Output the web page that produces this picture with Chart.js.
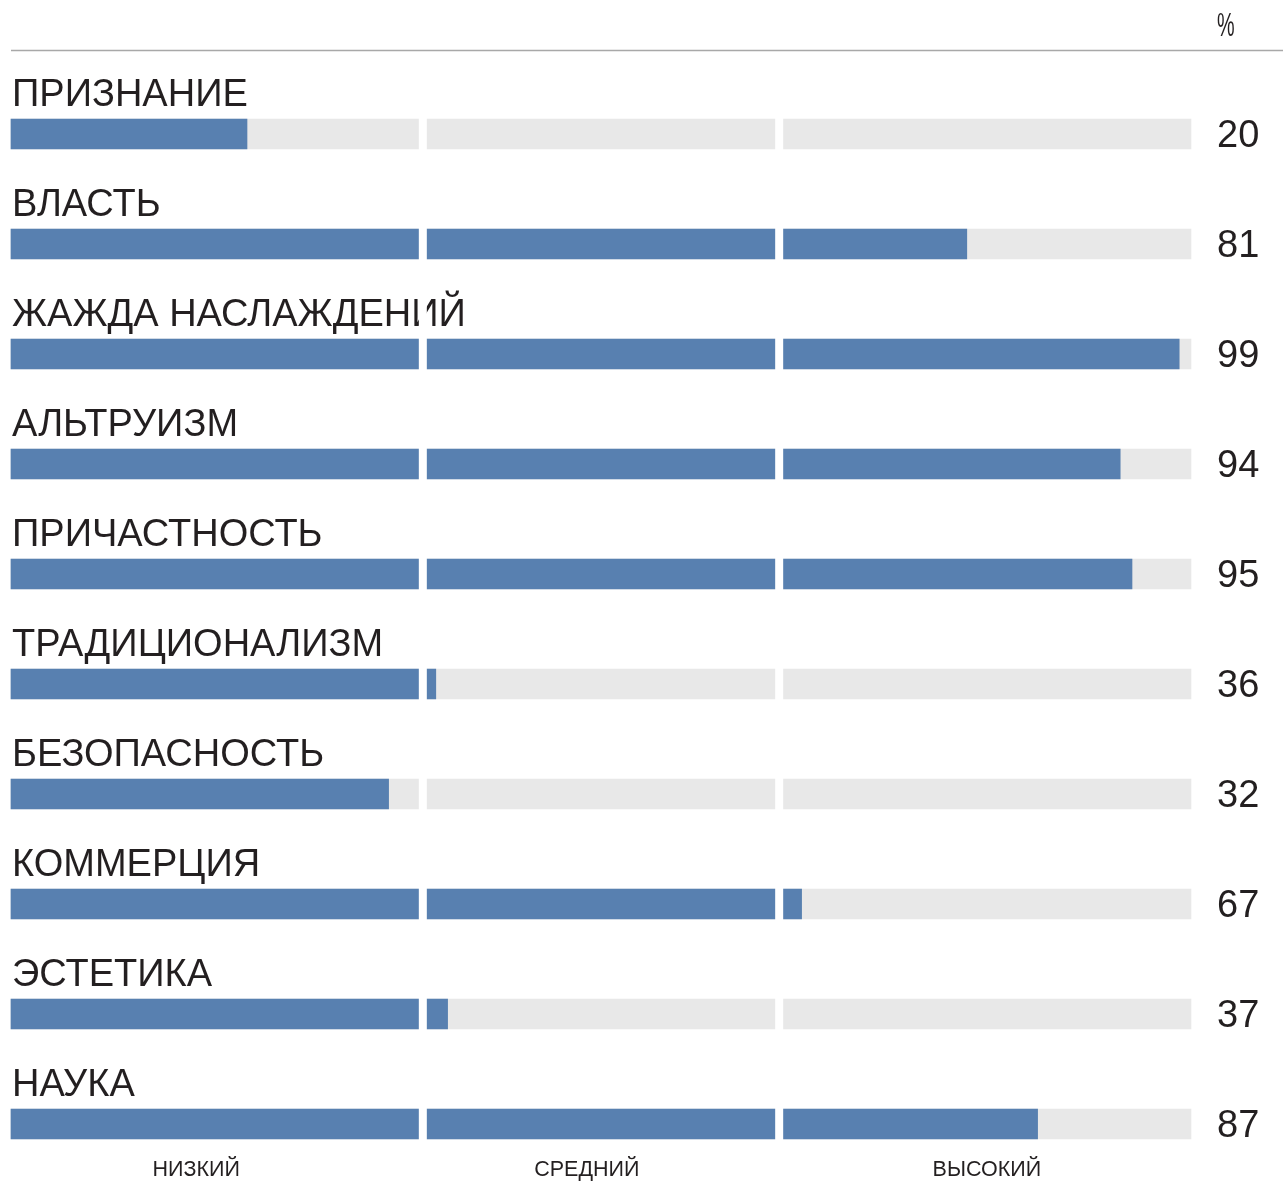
<!DOCTYPE html>
<html>
<head>
<meta charset="utf-8">
<script src="https://cdn.jsdelivr.net/npm/chart.js@4/dist/chart.umd.min.js"></script>
<style>
  html, body { margin: 0; padding: 0; background: #ffffff; }
  #wrap { width: 1283px; height: 1181px; position: relative; }
</style>
</head>
<body>
<div id="wrap"><canvas id="c" width="1283" height="1181"></canvas></div>
<script>
// ---- data ----
const categories = ['ПРИЗНАНИЕ', 'ВЛАСТЬ', 'ЖАЖДА НАСЛАЖДЕНИЙ', 'АЛЬТРУИЗМ', 'ПРИЧАСТНОСТЬ',
                    'ТРАДИЦИОНАЛИЗМ', 'БЕЗОПАСНОСТЬ', 'КОММЕРЦИЯ', 'ЭСТЕТИКА', 'НАУКА'];
const values = [20, 81, 99, 94, 95, 36, 32, 67, 37, 87];
const scaleMax = 100;
const levelBoundaries = [34.9, 65.1];
const levelLabels = ['НИЗКИЙ', 'СРЕДНИЙ', 'ВЫСОКИЙ'];
const levelLabelPositions = [15.7, 48.8, 82.7];
const unitLabel = '%';

// ---- styles ----
const BLUE = '#5880b0';
const GRAY = '#e8e8e8';
const TEXT = '#231f20';
const FONT = "'Liberation Sans', Arial, Helvetica, sans-serif";

const decorPlugin = {
  id: 'decor',
  afterDatasetsDraw(chart) {
    const ctx = chart.ctx;
    const x = chart.scales.x, y = chart.scales.y;
    ctx.save();
    // category names above each bar
    ctx.fillStyle = TEXT;
    ctx.font = '38px ' + FONT;
    ctx.textAlign = 'left';
    ctx.textBaseline = 'alphabetic';
    categories.forEach((c, i) => {
      ctx.fillText(c, x.getPixelForValue(0) + 1, y.getPixelForValue(i) - 28);
    });
    // white separators between levels
    ctx.fillStyle = '#ffffff';
    const top = y.getPixelForValue(0) - 75;
    const bottom = y.getPixelForValue(categories.length - 1) + 17;
    levelBoundaries.forEach(b => {
      const px = x.getPixelForValue(b);
      ctx.fillRect(px - 4, top, 8, bottom - top);
    });
    // values on the right
    ctx.fillStyle = TEXT;
    ctx.font = '38px ' + FONT;
    ctx.textAlign = 'left';
    values.forEach((v, i) => {
      ctx.fillText(String(v), x.right + 26, y.getPixelForValue(i) + 13);
    });
    // level labels at bottom
    ctx.font = '21.5px ' + FONT;
    ctx.textAlign = 'center';
    levelLabels.forEach((l, i) => {
      ctx.fillText(l, x.getPixelForValue(levelLabelPositions[i]), 1176);
    });
    // unit label (condensed) and top rule
    ctx.save();
    ctx.translate(x.right + 26, 36);
    ctx.scale(0.6, 1);
    ctx.font = '33px ' + FONT;
    ctx.textAlign = 'left';
    ctx.fillText(unitLabel, 0, 0);
    ctx.restore();
    ctx.strokeStyle = '#a8a8a8';
    ctx.lineWidth = 1.5;
    ctx.beginPath();
    ctx.moveTo(x.left, 50.5);
    ctx.lineTo(chart.width, 50.5);
    ctx.stroke();
    ctx.restore();
  }
};

new Chart(document.getElementById('c'), {
  type: 'bar',
  data: {
    labels: categories,
    datasets: [
      {
        label: 'value',
        data: values,
        backgroundColor: BLUE,
        order: 1
      },
      {
        label: 'scale',
        data: categories.map(() => scaleMax),
        backgroundColor: GRAY,
        order: 2
      }
    ]
  },
  options: {
    responsive: false,
    animation: false,
    indexAxis: 'y',
    layout: { padding: { left: 11, right: 92, top: 134, bottom: 57 } },
    datasets: { bar: { grouped: false, barThickness: 30, borderWidth: 0, clip: false } },
    scales: {
      x: { type: 'linear', min: 0, max: scaleMax, display: false },
      y: { type: 'category', offset: false, display: false }
    },
    plugins: {
      legend: { display: false },
      tooltip: { enabled: false },
      title: { display: false }
    }
  },
  plugins: [decorPlugin]
});
</script>
</body>
</html>
